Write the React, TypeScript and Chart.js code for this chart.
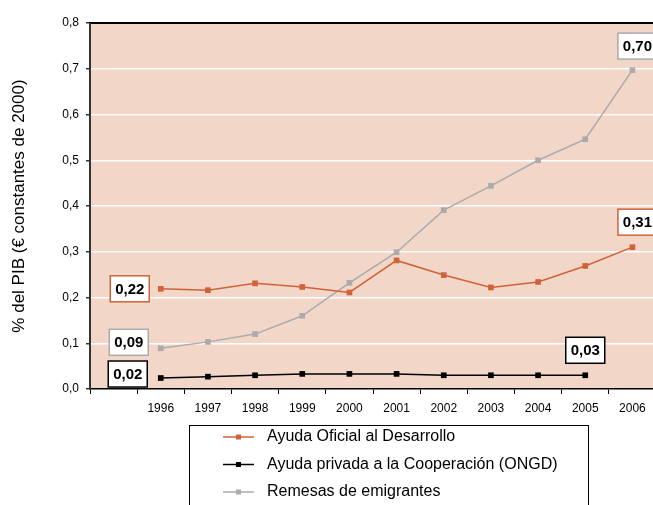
import React, { useEffect, useRef } from "react";
import { Chart, registerables } from "chart.js";

Chart.register(...registerables);

const categories = ["", "1996", "1997", "1998", "1999", "2000", "2001", "2002", "2003", "2004", "2005", "2006"];
const aodValues = [null, 0.219, 0.216, 0.231, 0.223, 0.211, 0.281, 0.249, 0.222, 0.234, 0.269, 0.31];
const ongdValues = [null, 0.024, 0.027, 0.03, 0.033, 0.033, 0.033, 0.03, 0.03, 0.03, 0.03, null];
const remesasValues = [null, 0.089, 0.103, 0.12, 0.16, 0.232, 0.299, 0.391, 0.444, 0.5, 0.546, 0.697];
const seriesNames = [
  "Ayuda Oficial al Desarrollo",
  "Ayuda privada a la Cooperación (ONGD)",
  "Remesas de emigrantes",
];
const seriesColors = ["#D0623A", "#000000", "#ABABAB"];
const yTitle = "% del PIB (€ constantes de 2000)";
const yMin = 0;
const yMax = 0.8;
const yStep = 0.1;

const FONT = "'Liberation Sans', Arial, sans-serif";
const fmt = (v: number, d: number) => v.toFixed(d).replace(".", ",");

// style: label offsets per dataset (first label, last label)
const firstOffsets = [
  { dx: -31, dy: 0 },
  { dx: -33, dy: -4 },
  { dx: -32, dy: -6 },
];
const lastOffsets = [
  { dx: 5, dy: -25 },
  { dx: 0, dy: -25 },
  { dx: 5, dy: -24 },
];

const decorPlugin = {
  id: "decor",
  beforeDraw(chart: any) {
    const { ctx, chartArea } = chart;
    ctx.save();
    ctx.fillStyle = "#F2D6C8";
    ctx.fillRect(chartArea.left, chartArea.top, chartArea.right - chartArea.left, chartArea.bottom - chartArea.top);
    ctx.restore();
  },
  afterDatasetsDraw(chart: any) {
    const { ctx, chartArea } = chart;
    ctx.save();
    // top frame
    ctx.strokeStyle = "#000";
    ctx.lineWidth = 2;
    ctx.beginPath();
    ctx.moveTo(chartArea.left - 1, chartArea.top);
    ctx.lineTo(chartArea.right + 5, chartArea.top);
    ctx.stroke();
    // left axis
    ctx.strokeStyle = "#333";
    ctx.lineWidth = 2;
    ctx.beginPath();
    ctx.moveTo(chartArea.left, chartArea.top);
    ctx.lineTo(chartArea.left, chartArea.bottom);
    ctx.stroke();

    // value labels
    ctx.font = `bold 15px ${FONT}`;
    ctx.textAlign = "center";
    ctx.textBaseline = "middle";
    chart.data.datasets.forEach((ds: any, i: number) => {
      const meta = chart.getDatasetMeta(i);
      const idx = ds.data.map((v: any, k: number) => (v == null ? -1 : k)).filter((k: number) => k >= 0);
      const pairs = [
        { k: idx[0], off: firstOffsets[i] },
        { k: idx[idx.length - 1], off: lastOffsets[i] },
      ];
      pairs.forEach(({ k, off }) => {
        const pt = meta.data[k];
        const cx = pt.x + off.dx;
        const cy = pt.y + off.dy;
        const w = 39;
        const h = 26;
        ctx.fillStyle = "#fff";
        ctx.fillRect(cx - w / 2, cy - h / 2, w, h);
        ctx.strokeStyle = ds.borderColor;
        ctx.lineWidth = 1.5;
        ctx.strokeRect(cx - w / 2, cy - h / 2, w, h);
        ctx.fillStyle = "#000";
        ctx.fillText(fmt(ds.data[k], 2), cx, cy + 1);
      });
    });

    // legend
    const lx = 189.5;
    const ly = 425.5;
    ctx.strokeStyle = "#000";
    ctx.lineWidth = 1;
    ctx.strokeRect(lx, ly, 399, 120);
    ctx.font = `16px ${FONT}`;
    ctx.textAlign = "left";
    chart.data.datasets.forEach((ds: any, i: number) => {
      const y = 437 + i * 27.5;
      ctx.strokeStyle = ds.borderColor;
      ctx.lineWidth = 1.5;
      ctx.beginPath();
      ctx.moveTo(223, y);
      ctx.lineTo(254, y);
      ctx.stroke();
      ctx.fillStyle = ds.borderColor;
      ctx.fillRect(236, y - 2.5, 5, 5);
      ctx.fillStyle = "#000";
      ctx.fillText(ds.label, 267, y);
    });
    ctx.restore();
  },
};

export default function App() {
  const ref = useRef<HTMLCanvasElement | null>(null);
  useEffect(() => {
    if (!ref.current) return;
    const values = [aodValues, ongdValues, remesasValues];
    const chart = new Chart(ref.current, {
      type: "line",
      data: {
        labels: categories,
        datasets: values.map((vals, i) => ({
          label: seriesNames[i],
          data: vals,
          borderColor: seriesColors[i],
          backgroundColor: seriesColors[i],
          borderWidth: 1.5,
          pointStyle: "rect",
          pointRadius: 4,
          pointBorderWidth: 0,
          tension: 0,
          spanGaps: false,
        })),
      },
      options: {
        responsive: false,
        animation: false,
        devicePixelRatio: 1,
        layout: { padding: { top: 23, right: 2, left: 0, bottom: 0 } },
        plugins: { legend: { display: false }, tooltip: { enabled: false } },
        scales: {
          x: {
            type: "category",
            offset: true,
            grid: {
              offset: true,
              drawOnChartArea: false,
              drawTicks: true,
              tickLength: 5,
              tickColor: "#000",
              color: "#000",
            },
            border: { display: true, color: "#000", width: 1.5 },
            ticks: {
              font: { family: FONT, size: 12 },
              color: "#000",
              padding: 7,
              maxRotation: 0,
              autoSkip: false,
            },
            afterFit: (s: any) => {
              s.height = 116;
            },
          },
          y: {
            min: yMin,
            max: yMax,
            ticks: {
              stepSize: yStep,
              callback: (v: any) => fmt(Number(v), 1),
              padding: 7,
              font: { family: FONT, size: 12 },
              color: "#000",
            },
            grid: {
              color: (c: any) => {
                const v = c.tick ? c.tick.value : 0;
                return v <= yMin + 1e-9 || v >= yMax - 1e-9 ? "rgba(0,0,0,0)" : "#FFFFFF";
              },
              lineWidth: 1.5,
              tickLength: 4,
              tickColor: "#333",
            },
            border: { display: true, color: "#333", width: 2 },
            title: {
              display: true,
              text: yTitle,
              font: { family: FONT, size: 17 },
              color: "#000",
              padding: { top: 9, bottom: 0 },
            },
            afterFit: (s: any) => {
              s.width = 90;
            },
          },
        },
      },
      plugins: [decorPlugin],
    });
    return () => chart.destroy();
  }, []);

  return (
    <div style={{ position: "fixed", left: 0, top: 0, width: 653, height: 505, overflow: "hidden", background: "#fff" }}>
      <canvas ref={ref} width={660} height={505} style={{ width: 660, height: 505, display: "block" }} />
    </div>
  );
}
